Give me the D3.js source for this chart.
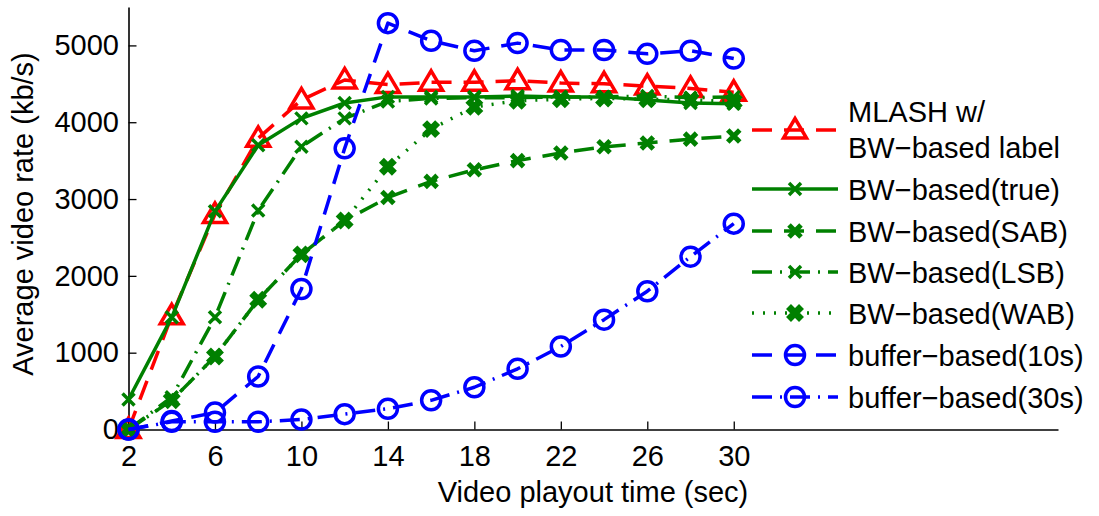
<!DOCTYPE html>
<html>
<head>
<meta charset="utf-8">
<script src="https://cdn.jsdelivr.net/npm/d3@7"></script>
<style>
  body { margin: 0; background: #fff; }
  text { font-family: "Liberation Sans", Arial, Helvetica, sans-serif; fill: #000; }
</style>
</head>
<body>
<svg id="chart" width="1099" height="516"></svg>
<script>
// ---- data ----
const playoutTime = [2, 4, 6, 8, 10, 12, 14, 16, 18, 20, 22, 24, 26, 28, 30];
const xTickValues = [2, 6, 10, 14, 18, 22, 26, 30];
const yTickValues = [0, 1000, 2000, 3000, 4000, 5000];

const mlashBW   = [0, 1480, 2800, 3790, 4290, 4550, 4490, 4520, 4520, 4540, 4510, 4500, 4470, 4440, 4390];
const bwTrue    = [390, 1460, 2840, 3700, 4050, 4250, 4330, 4330, 4330, 4340, 4330, 4330, 4290, 4250, 4240];
const bwSAB     = [0, 380, 950, 1690, 2280, 2720, 3020, 3230, 3380, 3500, 3600, 3680, 3730, 3780, 3820];
const bwLSB     = [0, 420, 1460, 2850, 3680, 4050, 4270, 4310, 4320, 4320, 4330, 4330, 4340, 4320, 4330];
const bwWAB     = [0, 380, 950, 1690, 2280, 2720, 3420, 3910, 4200, 4280, 4300, 4310, 4300, 4290, 4270];
const buffer10  = [0, 110, 220, 690, 1830, 3660, 5290, 5060, 4930, 5030, 4940, 4940, 4890, 4930, 4830];
const buffer30  = [0, 100, 100, 100, 130, 200, 270, 380, 550, 790, 1080, 1430, 1800, 2250, 2680];

const seriesNames = [
  ["MLASH w/", "BW\u2212based label"],
  ["BW\u2212based(true)"],
  ["BW\u2212based(SAB)"],
  ["BW\u2212based(LSB)"],
  ["BW\u2212based(WAB)"],
  ["buffer\u2212based(10s)"],
  ["buffer\u2212based(30s)"]
];
const seriesValues = [mlashBW, bwTrue, bwSAB, bwLSB, bwWAB, buffer10, buffer30];

// ---- styles ----
const RED = "#ff0000", GREEN = "#008000", BLUE = "#0000ff";
const styles = [
  { color: RED,   dash: "20,12",        marker: "tri",  mw: 3.5 },
  { color: GREEN, dash: null,           marker: "x",    mw: 3.5 },
  { color: GREEN, dash: "20,12",        marker: "x",    mw: 5 },
  { color: GREEN, dash: "20,8,2,8",     marker: "x",    mw: 3.5 },
  { color: GREEN, dash: "2,9",          marker: "X",    mw: 7 },
  { color: BLUE,  dash: "20,12",        marker: "o",    mw: 3.5 },
  { color: BLUE,  dash: "20,8,2,8",     marker: "o",    mw: 3.5 }
];
const legendY = [130, 189, 231, 272, 313, 355, 397];

const svg = d3.select("#chart");
const x = d3.scaleLinear().domain([2, 45]).range([128.5, 1058]);
const y = d3.scaleLinear().domain([0, 5500]).range([429.5, 7]);

// ---- axes ----
const xAxis = d3.axisBottom(x).tickValues(xTickValues).tickSizeInner(-8).tickSizeOuter(0).tickPadding(16).tickFormat(d3.format("d"));
const yAxis = d3.axisLeft(y).tickValues(yTickValues).tickSizeInner(-8).tickSizeOuter(0).tickPadding(9.5).tickFormat(d3.format("d"));

const gx = svg.append("g").attr("transform", `translate(0,${y(0)})`).call(xAxis);
const gy = svg.append("g").attr("transform", `translate(${x(2)},0)`).call(yAxis);
[gx, gy].forEach(g => {
  g.select(".domain").attr("stroke", "#000").attr("stroke-width", 1.6);
  g.selectAll(".tick line").attr("stroke", "#000").attr("stroke-width", 1.3);
  g.selectAll(".tick text").attr("font-size", 29).attr("font-family", "Liberation Sans, Arial, sans-serif").attr("fill", "#000");
});

svg.append("text").attr("x", 593).attr("y", 502).attr("text-anchor", "middle")
  .attr("font-size", 29).text("Video playout time (sec)");
svg.append("text").attr("transform", "translate(33,214) rotate(-90)").attr("text-anchor", "middle")
  .attr("font-size", 29).text("Average video rate (kb/s)");

// ---- marker drawing ----
function drawMarker(g, type, cx, cy, color, mw) {
  if (type === "tri") {
    g.append("path").attr("d", `M${cx},${cy - 11.5} L${cx + 11.5},${cy + 8} L${cx - 11.5},${cy + 8} Z`)
      .attr("fill", "none").attr("stroke", color).attr("stroke-width", mw).attr("stroke-linejoin", "miter");
  } else if (type === "o") {
    g.append("circle").attr("cx", cx).attr("cy", cy).attr("r", 9.5)
      .attr("fill", "none").attr("stroke", color).attr("stroke-width", mw);
  } else {
    const s = type === "X" ? 6.5 : 6;
    g.append("path").attr("d", `M${cx - s},${cy - s} L${cx + s},${cy + s} M${cx - s},${cy + s} L${cx + s},${cy - s}`)
      .attr("fill", "none").attr("stroke", color).attr("stroke-width", mw).attr("stroke-linecap", "butt");
  }
}

// ---- series ----
const line = d3.line().x(d => x(d[0])).y(d => y(d[1]));
seriesValues.forEach((vals, i) => {
  const st = styles[i];
  const g = svg.append("g");
  const pts = playoutTime.map((t, j) => [t, vals[j]]);
  g.append("path").datum(pts).attr("d", line)
    .attr("fill", "none").attr("stroke", st.color).attr("stroke-width", 3.5)
    .attr("stroke-dasharray", st.dash).attr("stroke-linejoin", "round");
  pts.forEach(p => drawMarker(g, st.marker, x(p[0]), y(p[1]), st.color, st.mw));
});

// ---- legend ----
const lg = svg.append("g");
seriesNames.forEach((names, i) => {
  const st = styles[i];
  const ly = legendY[i];
  lg.append("line").attr("x1", 752).attr("x2", 838).attr("y1", ly).attr("y2", ly)
    .attr("stroke", st.color).attr("stroke-width", 3.5).attr("stroke-dasharray", st.dash);
  drawMarker(lg, st.marker, 795, ly, st.color, st.mw);
  if (names.length === 1) {
    lg.append("text").attr("x", 848).attr("y", ly + 10.5).attr("font-size", 29).text(names[0]);
  } else {
    lg.append("text").attr("x", 848).attr("y", 121.5).attr("font-size", 29).text(names[0]);
    lg.append("text").attr("x", 848).attr("y", 158).attr("font-size", 29).text(names[1]);
  }
});
</script>
</body>
</html>
